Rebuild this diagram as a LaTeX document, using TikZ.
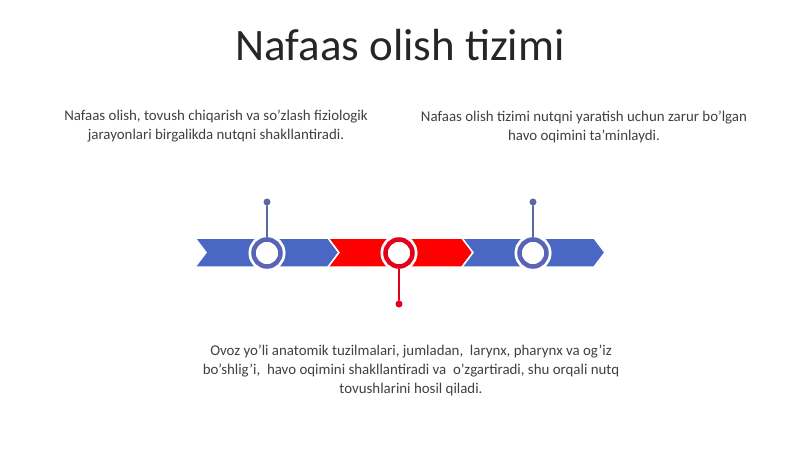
\documentclass[tikz,border=0pt]{standalone}
\usepackage{fontspec}
\setmainfont{Carlito}
\usetikzlibrary{calc}
\definecolor{segblue}{HTML}{4A67C3}
\definecolor{segred}{HTML}{FF0000}
\definecolor{ringblue}{HTML}{5A63B5}
\definecolor{ringred}{HTML}{E2001A}
\definecolor{pinblue}{HTML}{5B6A9E}
\definecolor{bodygray}{HTML}{404040}
\definecolor{titlegray}{HTML}{262626}

\tikzset{
    segment/.style = {fill=#1, draw=white, line width=1.5pt},
    ring/.style = {circle, inner sep=0pt, minimum size=27pt, fill=white,
        draw=#1, line width=4.5pt, preaction={draw=white, line width=10pt}},
    pindot/.style = {circle, inner sep=0pt, minimum size=7pt, fill=#1},
    pinline/.style = {draw=#1, line width=1.5pt},
    bodytext/.style = {align=center, text=bodygray, font=\fontsize{14.9}{19}\selectfont}
}

\begin{document}
\begin{tikzpicture}[x=1pt, y=-1pt, line cap=round]
    \useasboundingbox (0,0) rectangle (800,449);

    % title
    \node[text=titlegray, font=\fontsize{45}{54}\selectfont] (title) at (400,45) {Nafaas olish tizimi};

    % arrow band
    \fill[segment=segblue] (195,238) -- (328,238) -- (339,252.5) -- (328,267) -- (195,267) -- (206,252.5) -- cycle;
    \fill[segment=segred]  (328,238) -- (462,238) -- (473,252.5) -- (462,267) -- (328,267) -- (339,252.5) -- cycle;
    \fill[segment=segblue] (462,238) -- (594,238) -- (605,252.5) -- (594,267) -- (462,267) -- (473,252.5) -- cycle;

    % rings on the band
    \node[ring=ringblue] (ringA) at (267,253) {};
    \node[ring=ringred]  (ringB) at (399,253) {};
    \node[ring=ringblue] (ringC) at (533,253) {};

    % pins
    \node[pindot=pinblue] (dotA) at (267,202) {};
    \node[pindot=ringred] (dotB) at (399,304) {};
    \node[pindot=pinblue] (dotC) at (533,202) {};
    \draw[pinline=pinblue] (dotA) -- (ringA);
    \draw[pinline=ringred] (dotB) -- (ringB);
    \draw[pinline=pinblue] (dotC) -- (ringC);

    % texts
    \node[bodytext] (textA) at (216,126.5) {Nafaas olish, tovush chiqarish va so'zlash fiziologik\\jarayonlari birgalikda nutqni shakllantiradi.};
    \node[bodytext] (textC) at (584,126.5) {Nafaas olish tizimi nutqni yaratish uchun zarur bo'lgan\\havo oqimini ta'minlaydi.};
    \node[bodytext] (textB) at (411,370) {Ovoz yo'li anatomik tuzilmalari, jumladan,\ \ larynx, pharynx va og'iz\\bo'shlig'i,\ \ havo oqimini shakllantiradi va\ \ o'zgartiradi, shu orqali nutq\\tovushlarini hosil qiladi.};
\end{tikzpicture}
\end{document}
